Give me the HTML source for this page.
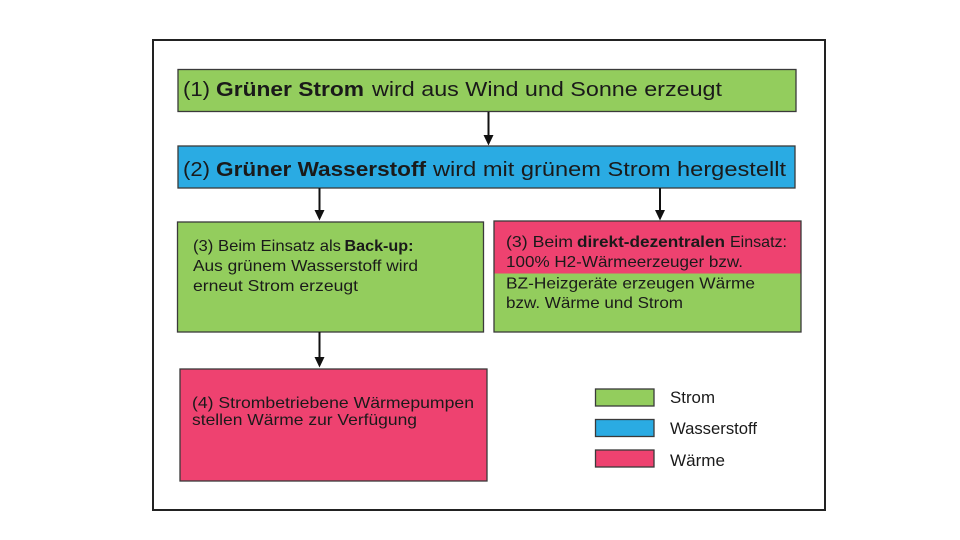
<!DOCTYPE html>
<html>
<head>
<meta charset="utf-8">
<style>
html,body{margin:0;padding:0;background:#fff;}
svg{display:block;}
text{font-family:"Liberation Sans","DejaVu Sans",sans-serif;fill:#1a1a1a;}
.b{font-weight:bold;}
</style>
</head>
<body>
<svg width="960" height="540" viewBox="0 0 960 540" xmlns="http://www.w3.org/2000/svg">
  <rect x="0" y="0" width="960" height="540" fill="#fff"/>
  <!-- outer frame -->
  <rect x="153" y="40" width="672" height="470" fill="#fff" stroke="#222" stroke-width="2"/>

  <!-- Box 1 -->
  <rect x="178" y="69.5" width="618" height="42" fill="#93cd5d" stroke="#3a3a3a" stroke-width="1.3"/>
  <text x="183" y="96" font-size="20" textLength="27" lengthAdjust="spacingAndGlyphs">(1)</text>
  <text x="216" y="96" font-size="20" class="b" textLength="148" lengthAdjust="spacingAndGlyphs">Grüner Strom</text>
  <text x="372" y="96" font-size="20" textLength="350" lengthAdjust="spacingAndGlyphs">wird aus Wind und Sonne erzeugt</text>

  <!-- arrow 1 -->
  <line x1="488.5" y1="112" x2="488.5" y2="136" stroke="#111" stroke-width="2"/>
  <polygon points="483.5,135 493.5,135 488.5,145.5" fill="#111"/>

  <!-- Box 2 -->
  <rect x="178" y="146" width="617" height="42" fill="#2aabe3" stroke="#3a3a3a" stroke-width="1.3"/>
  <text x="183" y="176" font-size="20" textLength="27" lengthAdjust="spacingAndGlyphs">(2)</text>
  <text x="216" y="176" font-size="20" class="b" textLength="210" lengthAdjust="spacingAndGlyphs">Grüner Wasserstoff</text>
  <text x="433" y="176" font-size="20" textLength="353" lengthAdjust="spacingAndGlyphs">wird mit grünem Strom hergestellt</text>

  <!-- arrows 2 & 3 -->
  <line x1="319.5" y1="188" x2="319.5" y2="211" stroke="#111" stroke-width="2"/>
  <polygon points="314.5,210 324.5,210 319.5,220.5" fill="#111"/>
  <line x1="660" y1="188" x2="660" y2="211" stroke="#111" stroke-width="2"/>
  <polygon points="655,210 665,210 660,220.5" fill="#111"/>

  <!-- Box 3 left -->
  <rect x="177.5" y="222" width="306" height="110" fill="#93cd5d" stroke="#3a3a3a" stroke-width="1.3"/>
  <text x="193" y="251" font-size="16" textLength="148" lengthAdjust="spacingAndGlyphs">(3) Beim Einsatz als</text>
  <text x="344.5" y="251" font-size="16" class="b" textLength="69" lengthAdjust="spacingAndGlyphs">Back-up:</text>
  <text x="193" y="271" font-size="16" textLength="225" lengthAdjust="spacingAndGlyphs">Aus grünem Wasserstoff wird</text>
  <text x="193" y="291" font-size="16" textLength="165" lengthAdjust="spacingAndGlyphs">erneut Strom erzeugt</text>

  <!-- Box 3 right (split) -->
  <rect x="494" y="221" width="307" height="52.5" fill="#ee4270"/>
  <rect x="494" y="273.5" width="307" height="58.5" fill="#93cd5d"/>
  <rect x="494" y="221" width="307" height="111" fill="none" stroke="#3a3a3a" stroke-width="1.3"/>
  <text x="506" y="247" font-size="16" textLength="67" lengthAdjust="spacingAndGlyphs">(3) Beim</text>
  <text x="577" y="247" font-size="16" class="b" textLength="148" lengthAdjust="spacingAndGlyphs">direkt-dezentralen</text>
  <text x="730" y="247" font-size="16" textLength="57" lengthAdjust="spacingAndGlyphs">Einsatz:</text>
  <text x="506" y="267" font-size="16" textLength="237" lengthAdjust="spacingAndGlyphs">100% H2-Wärmeerzeuger bzw.</text>
  <text x="506" y="288.5" font-size="16" textLength="249" lengthAdjust="spacingAndGlyphs">BZ-Heizgeräte erzeugen Wärme</text>
  <text x="506" y="308" font-size="16" textLength="177" lengthAdjust="spacingAndGlyphs">bzw. Wärme und Strom</text>

  <!-- arrow 4 -->
  <line x1="319.5" y1="332" x2="319.5" y2="358" stroke="#111" stroke-width="2"/>
  <polygon points="314.5,357 324.5,357 319.5,367.5" fill="#111"/>

  <!-- Box 4 -->
  <rect x="180" y="369" width="307" height="112" fill="#ee4270" stroke="#3a3a3a" stroke-width="1.3"/>
  <text x="192" y="408" font-size="16" textLength="282" lengthAdjust="spacingAndGlyphs">(4) Strombetriebene Wärmepumpen</text>
  <text x="192" y="425" font-size="16" textLength="225" lengthAdjust="spacingAndGlyphs">stellen Wärme zur Verfügung</text>

  <!-- Legend -->
  <rect x="595.5" y="389" width="58.5" height="17" fill="#93cd5d" stroke="#3a3a3a" stroke-width="1.3"/>
  <rect x="595.5" y="419.5" width="58.5" height="17" fill="#2aabe3" stroke="#3a3a3a" stroke-width="1.3"/>
  <rect x="595.5" y="450" width="58.5" height="17" fill="#ee4270" stroke="#3a3a3a" stroke-width="1.3"/>
  <text x="670" y="403" font-size="16.5" textLength="45" lengthAdjust="spacingAndGlyphs">Strom</text>
  <text x="670" y="434" font-size="16.5" textLength="87" lengthAdjust="spacingAndGlyphs">Wasserstoff</text>
  <text x="670" y="466" font-size="16.5" textLength="55" lengthAdjust="spacingAndGlyphs">Wärme</text>
</svg>
</body>
</html>
